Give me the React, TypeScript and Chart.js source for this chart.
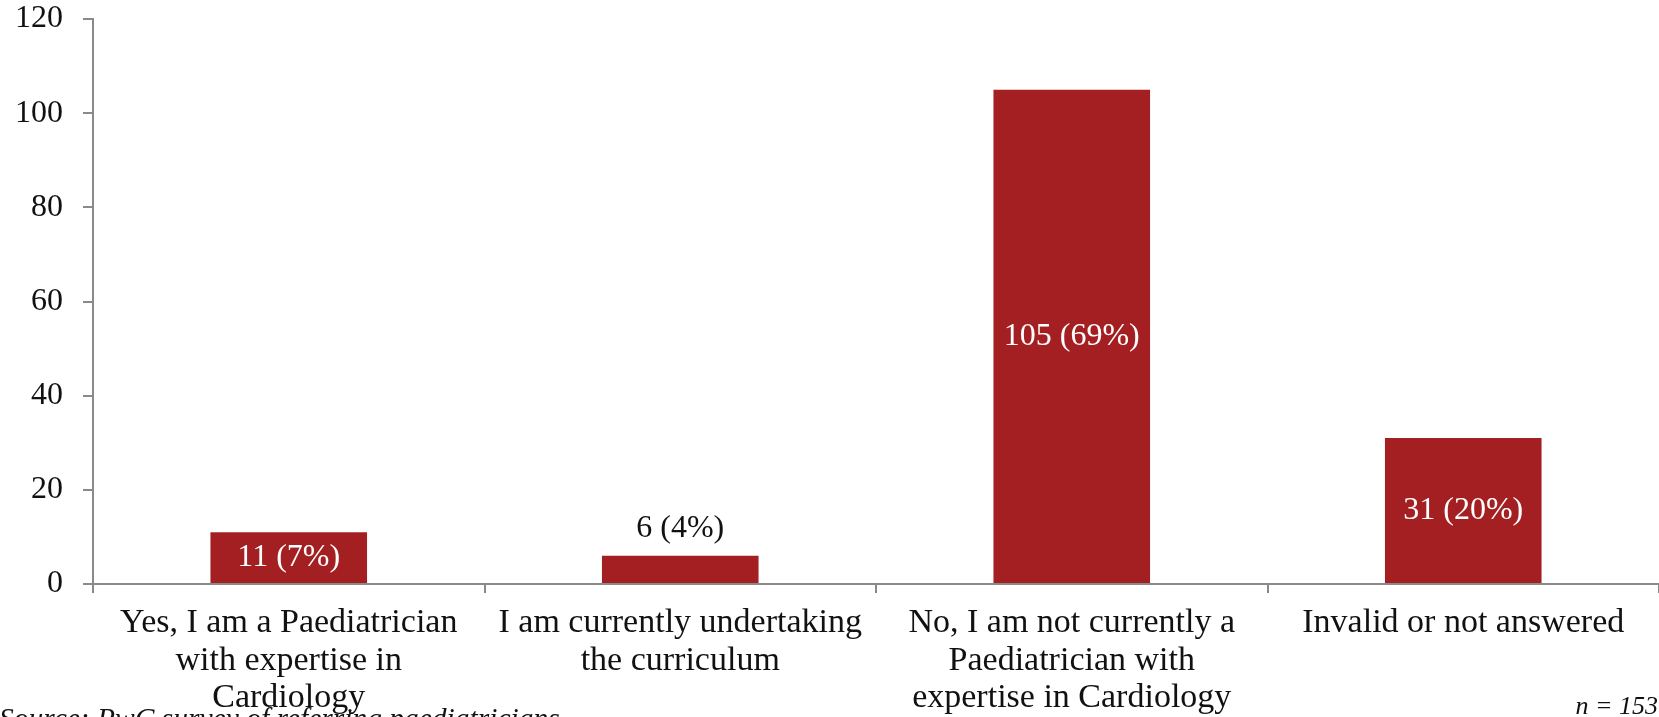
import React, { useEffect, useRef } from "react";
import { Chart, registerables } from "chart.js";

Chart.register(...registerables);

const categories: string[][] = [
  ["Yes, I am a Paediatrician", "with expertise in", "Cardiology"],
  ["I am currently undertaking", "the curriculum"],
  ["No, I am not currently a", "Paediatrician with", "expertise in Cardiology"],
  ["Invalid or not answered"],
];
const counts: number[] = [11, 6, 105, 31];
const totalResponses = 153;
const yTicks: number[] = [0, 20, 40, 60, 80, 100, 120];

const sourceNote = "Source: PwC survey of referring paediatricians";
const sampleNote = `n = ${totalResponses}`;

const BAR_RED = "rgb(163,31,34)";
const AXIS_GREY = "#8a8a8a";
const SERIF = "'Liberation Serif', 'Times New Roman', serif";

const valueLabelPlugin = {
  id: "valueLabels",
  afterDatasetsDraw(chart: any) {
    const { ctx } = chart;
    const meta = chart.getDatasetMeta(0);
    ctx.save();
    ctx.font = `32px ${SERIF}`;
    ctx.textAlign = "center";
    ctx.textBaseline = "middle";
    meta.data.forEach((bar: any, i: number) => {
      const v = counts[i];
      const pct = Math.round((v / totalResponses) * 100);
      const text = `${v} (${pct}%)`;
      const h = bar.base - bar.y;
      if (h > 40) {
        ctx.fillStyle = "#ffffff";
        ctx.fillText(text, bar.x, bar.y + h / 2);
      } else {
        ctx.fillStyle = "#111111";
        ctx.fillText(text, bar.x, bar.y - 27);
      }
    });
    ctx.restore();
  },
  afterDraw(chart: any) {
    const { ctx, width } = chart;
    ctx.save();
    ctx.fillStyle = "#111111";
    ctx.textBaseline = "alphabetic";
    ctx.font = `italic 29.5px ${SERIF}`;
    ctx.textAlign = "left";
    ctx.fillText(sourceNote, -1, 728);
    ctx.font = `italic 26px ${SERIF}`;
    ctx.textAlign = "right";
    ctx.fillText(sampleNote, width - 1, 714);
    ctx.restore();
  },
};

export default function App() {
  const canvasRef = useRef<HTMLCanvasElement | null>(null);

  useEffect(() => {
    document.body.style.margin = "0";
    const canvas = canvasRef.current;
    if (!canvas) return;
    const chart = new Chart(canvas, {
      type: "bar",
      data: {
        labels: categories,
        datasets: [
          {
            data: counts,
            backgroundColor: BAR_RED,
            borderWidth: 0,
            barPercentage: 0.8,
            categoryPercentage: 0.5,
          },
        ],
      },
      options: {
        responsive: false,
        animation: false,
        devicePixelRatio: 1,
        layout: { padding: 0 },
        plugins: {
          legend: { display: false },
          tooltip: { enabled: false },
          title: { display: false },
        },
        scales: {
          x: {
            grid: {
              display: true,
              offset: true,
              drawOnChartArea: false,
              drawTicks: true,
              tickLength: 9,
              color: AXIS_GREY,
              lineWidth: 2,
            },
            border: { display: true, color: AXIS_GREY, width: 2 },
            ticks: {
              color: "#111111",
              font: { family: SERIF, size: 34, lineHeight: 1.11 },
              padding: 11,
              maxRotation: 0,
              autoSkip: false,
            },
            afterFit(scale: any) {
              scale.height = 133;
            },
          },
          y: {
            min: 0,
            max: 120,
            afterBuildTicks(scale: any) {
              scale.ticks = yTicks.map((value) => ({ value }));
            },
            grid: {
              display: true,
              drawOnChartArea: false,
              drawTicks: true,
              tickLength: 10,
              color: AXIS_GREY,
              lineWidth: 2,
            },
            border: { display: true, color: AXIS_GREY, width: 2 },
            ticks: {
              color: "#111111",
              font: { family: SERIF, size: 32 },
              padding: 20,
            },
            afterFit(scale: any) {
              scale.width = 93;
              scale.paddingTop = 19;
              scale.paddingBottom = 0;
            },
          },
        },
      },
      plugins: [valueLabelPlugin],
    });
    return () => chart.destroy();
  }, []);

  return (
    <div style={{ width: 1659, height: 717, overflow: "hidden", background: "#ffffff" }}>
      <canvas ref={canvasRef} width={1659} height={717} />
    </div>
  );
}
